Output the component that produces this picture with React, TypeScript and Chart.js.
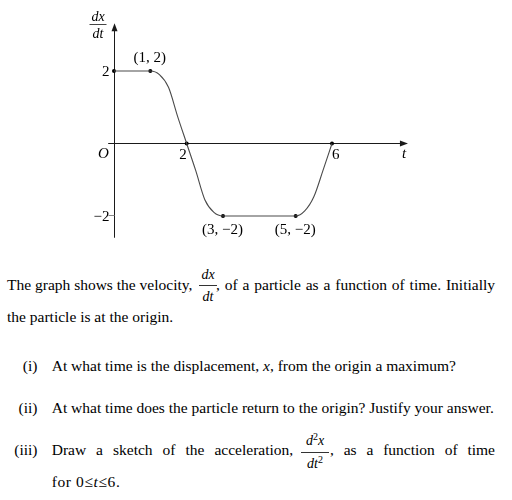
import React, { useEffect, useRef } from "react";
import { Chart, registerables } from "chart.js";

Chart.register(...registerables);

// velocity curve
const curveT = [0, 1, 1.25, 1.5, 1.75, 2, 2.25, 2.5, 2.75, 3, 5, 5.25, 5.5, 5.75, 6];
const curveV = [2, 2, 1.9, 1.55, 0.75, 0, -0.75, -1.55, -1.9, -2, -2, -1.86, -1.47, -0.75, 0];

// marked points
const markT = [0, 1, 2, 3, 5, 6];
const markV = [2, 2, 0, -2, -2, 0];

// point labels
const labelT = [1, 3, 5];
const labelV = [2, -2, -2];
const labelText = ["(1, 2)", "(3, \u22122)", "(5, \u22122)"];

// axis tick labels
const yTickVals = [2, -2];
const yTickText = ["2", "\u22122"];
const xTickVals = [2, 6];
const xTickText = ["2", "6"];

const SERIF = "'Liberation Serif', 'Times New Roman', serif";

const axisPlugin = {
  id: "mathAxes",
  beforeDatasetsDraw(chart: any) {
    const { ctx, scales } = chart;
    const x = scales.x;
    const y = scales.y;
    const x0 = Math.round(x.getPixelForValue(0)) + 0.5;
    const y0 = Math.floor(y.getPixelForValue(0)) + 0.5;
    const xl = x.getPixelForValue(-0.16);
    const xr = x.getPixelForValue(8.09);
    const yt = y.getPixelForValue(3.32);
    const yb = y.getPixelForValue(-2.6);
    ctx.save();
    ctx.strokeStyle = "#1a1a1a";
    ctx.fillStyle = "#1a1a1a";
    ctx.lineWidth = 1;
    // x axis
    ctx.beginPath();
    ctx.moveTo(xl, y0);
    ctx.lineTo(xr - 4, y0);
    ctx.stroke();
    ctx.beginPath();
    ctx.moveTo(xr, y0);
    ctx.lineTo(xr - 8, y0 - 3);
    ctx.lineTo(xr - 8, y0 + 3);
    ctx.closePath();
    ctx.fill();
    // y axis
    ctx.beginPath();
    ctx.moveTo(x0, yb);
    ctx.lineTo(x0, yt + 4);
    ctx.stroke();
    ctx.beginPath();
    ctx.moveTo(x0, yt);
    ctx.lineTo(x0 - 3, yt + 8);
    ctx.lineTo(x0 + 3, yt + 8);
    ctx.closePath();
    ctx.fill();
    // small tick at -2
    ctx.strokeStyle = "#888";
    const ym2 = Math.floor(y.getPixelForValue(-2)) + 0.5;
    ctx.beginPath();
    ctx.moveTo(x0 - 6, ym2);
    ctx.lineTo(x0, ym2);
    ctx.stroke();
    ctx.restore();
  },
  afterDatasetsDraw(chart: any) {
    const { ctx, scales } = chart;
    const x = scales.x;
    const y = scales.y;
    const x0 = x.getPixelForValue(0);
    const y0 = y.getPixelForValue(0);
    ctx.save();
    ctx.fillStyle = "#000";
    ctx.textBaseline = "alphabetic";
    ctx.font = `15px ${SERIF}`;
    // y tick labels
    ctx.textAlign = "right";
    yTickVals.forEach((v, i) => {
      ctx.fillText(yTickText[i], x0 - 4.5, y.getPixelForValue(v) + 5);
    });
    // x tick labels
    ctx.textAlign = "left";
    xTickVals.forEach((v, i) => {
      const px = x.getPixelForValue(v);
      const off = v === 6 ? 0 : -7.5;
      ctx.fillText(xTickText[i], px + off, y0 + 15.5);
    });
    // point labels
    ctx.textAlign = "center";
    labelT.forEach((t, i) => {
      const px = x.getPixelForValue(t);
      const py = y.getPixelForValue(labelV[i]);
      ctx.fillText(labelText[i], px - 0.5, labelV[i] > 0 ? py - 9 : py + 18.5);
    });
    // italic labels
    ctx.font = `italic 15px ${SERIF}`;
    ctx.textAlign = "center";
    ctx.fillText("O", x0 - 10.5, y0 + 14.5);
    ctx.fillText("t", x.getPixelForValue(8.0) - 0.5, y0 + 14.5);
    // dx/dt
    ctx.font = `italic 14px ${SERIF}`;
    const fx = x0 - 16;
    ctx.fillText("dx", fx, 21);
    ctx.fillText("dt", fx, 37.5);
    ctx.strokeStyle = "#444";
    ctx.lineWidth = 1;
    ctx.beginPath();
    ctx.moveTo(fx - 8.5, 24.5);
    ctx.lineTo(fx + 8.5, 24.5);
    ctx.stroke();
    ctx.restore();
  },
};

function Frac({ num, den, left, top, width }: any) {
  return (
    <div
      style={{
        position: "absolute",
        left,
        top,
        width,
        fontFamily: SERIF,
        fontStyle: "italic",
        fontSize: "14px",
        lineHeight: "14px",
        textAlign: "center",
        color: "#000",
      }}
    >
      <div>{num}</div>
      <div style={{ borderTop: "1px solid #333", marginTop: "3px", paddingTop: "4px" }}>{den}</div>
    </div>
  );
}

function Sup({ children }: any) {
  return (
    <span style={{ fontSize: "10px", position: "relative", top: "-5px", fontStyle: "normal" }}>{children}</span>
  );
}

function Text({ children, left, baseline, width, justify, style }: any) {
  return (
    <div
      style={{
        position: "absolute",
        left,
        top: baseline - 13.9,
        width,
        whiteSpace: "nowrap",
        fontFamily: SERIF,
        fontSize: "15.5px",
        lineHeight: "17.2px",
        color: "#000",
        textAlign: justify ? "justify" : "left",
        textAlignLast: justify ? "justify" : "auto",
        ...(style || {}),
      }}
    >
      {children}
    </div>
  );
}

export default function App() {
  const ref = useRef<HTMLCanvasElement>(null);
  useEffect(() => {
    if (!ref.current) return;
    const chart = new Chart(ref.current, {
      type: "scatter",
      data: {
        datasets: [
          {
            label: "velocity",
            data: curveT.map((t, i) => ({ x: t, y: curveV[i] })),
            showLine: true,
            borderColor: "#4a4a4a",
            borderWidth: 1.1,
            pointRadius: 0,
            cubicInterpolationMode: "monotone",
            fill: false,
          } as any,
          {
            label: "points",
            data: markT.map((t, i) => ({ x: t, y: markV[i] })),
            showLine: false,
            pointRadius: 2,
            pointBackgroundColor: "#000",
            pointBorderWidth: 0,
          } as any,
        ],
      },
      options: {
        animation: false,
        responsive: false,
        devicePixelRatio: 1,
        layout: { padding: { left: 77.67, right: 71, top: 16.6, bottom: 7.75 } },
        plugins: { legend: { display: false }, tooltip: { enabled: false } },
        scales: {
          x: { type: "linear", min: -1, max: 9, display: false },
          y: { type: "linear", min: -3, max: 3.5, display: false },
        },
      },
      plugins: [axisPlugin],
    });
    return () => chart.destroy();
  }, []);

  return (
    <div style={{ position: "absolute", left: 0, top: 0, width: 512, height: 500, background: "#fff" }}>
      <canvas ref={ref} width={512} height={260} style={{ position: "absolute", left: 0, top: 0 }} />
      <Text left={7} baseline={290}>The graph shows the velocity,</Text>
      <Frac num="dx" den="dt" left={199} top={268} width={18} />
      <Text left={216} baseline={290} width={279} justify>
        , of a particle as a function of time. Initially
      </Text>
      <Text left={7} baseline={321.7}>the particle is at the origin.</Text>

      <Text left={0} baseline={371} width={37.5} style={{ textAlign: "right" }}>(i)</Text>
      <Text left={51.7} baseline={371}>At what time is the displacement, <i>x</i>, from the origin a maximum?</Text>

      <Text left={0} baseline={412.7} width={37.5} style={{ textAlign: "right" }}>(ii)</Text>
      <Text left={51.7} baseline={412.7}>At what time does the particle return to the origin? Justify your answer.</Text>

      <Text left={0} baseline={455} width={37.5} style={{ textAlign: "right" }}>(iii)</Text>
      <Text left={51.7} baseline={455} width={241.5} justify>Draw a sketch of the acceleration,</Text>
      <Frac
        num={<span>d<Sup>2</Sup>x</span>}
        den={<span>dt<Sup>2</Sup></span>}
        left={301}
        top={434}
        width={28}
      />
      <Text left={330} baseline={455} width={165} justify>, as a function of time</Text>
      <Text left={51.7} baseline={486.7} style={{ letterSpacing: "0.6px" }}>
        for 0{"\u2264"}<i>t</i>{"\u2264"}6.
      </Text>
    </div>
  );
}
